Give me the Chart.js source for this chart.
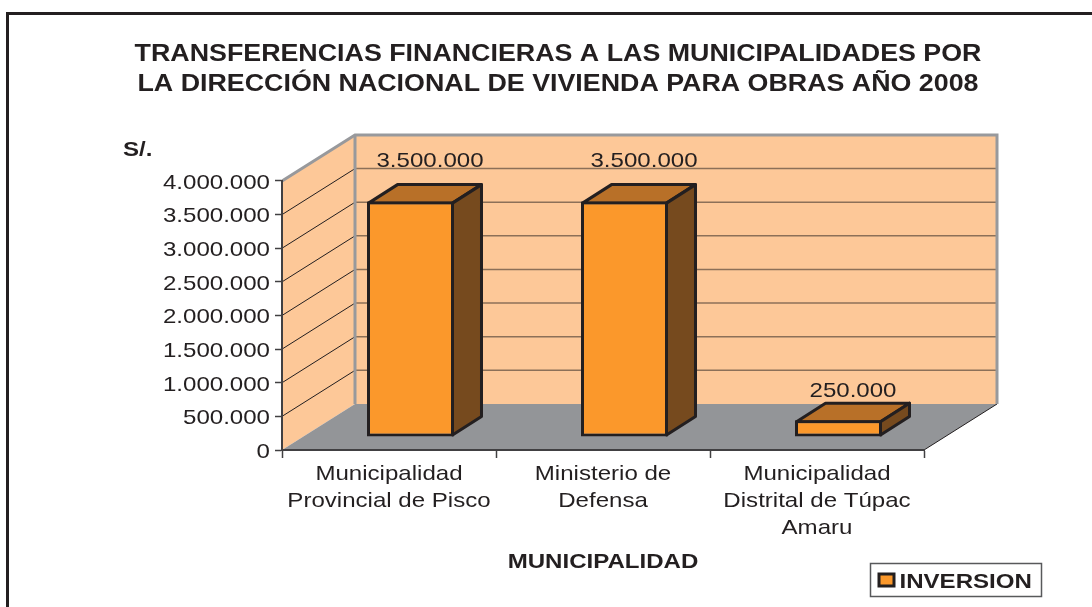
<!DOCTYPE html>
<html><head><meta charset="utf-8">
<script src="https://cdn.jsdelivr.net/npm/chart.js@4"></script>
<style>html,body{margin:0;padding:0;background:#fff}canvas{display:block}</style>
</head><body><canvas id="c" width="1092" height="607"></canvas>
<script>
const titleLines = ["TRANSFERENCIAS FINANCIERAS A LAS MUNICIPALIDADES POR","LA DIRECCIÓN NACIONAL DE VIVIENDA PARA OBRAS AÑO 2008"];
const categories = [["Municipalidad","Provincial de Pisco"],["Ministerio de","Defensa"],["Municipalidad","Distrital de Túpac","Amaru"]];
const inversion = [3500000,3500000,250000];
const seriesName = "INVERSION";
const xAxisTitle = "MUNICIPALIDAD";
const yAxisCaption = "S/.";
const yMax = 4000000, yStep = 500000;

const INK="#231F20", FS=21;
const WALL_DX=73, WALL_DY=-46;       // depth of the 3D box
const BAR_DX=21.5, BAR_DY=-13;       // bar's place inside the box
const TOP_DX=29, TOP_DY=-18.5;       // bar's own depth
const TEXT_SX=1.146, TEXT_DY=2;      // the reference's type is horizontally stretched
const fmt=v=>String(v).replace(/\B(?=(\d{3})+$)/g,".");
const FONT="'Liberation Sans',Arial,sans-serif";

const box3d={id:"box3d",
 beforeInit(ch){
  const c=ch.ctx,orig=c.fillText.bind(c);
  c.fillText=function(t,x,y){
   c.save();c.translate(x,y+TEXT_DY);c.scale(TEXT_SX,1);orig(t,0,0);c.restore();
  };
 },
 afterLayout(ch){
  const t=ch.titleBlock; t.left=0; t.right=1116;
  const l=ch.legend; l.left=868; l.right=1042; l.top=559.5; l.bottom=600;
 },
 beforeDraw(ch){
  const c=ch.ctx,{x,y}=ch.scales,a=ch.chartArea;
  c.save();
  // frame
  c.strokeStyle=INK;c.lineWidth=3;
  c.beginPath();c.moveTo(7.5,610);c.lineTo(7.5,13.5);c.lineTo(1095,13.5);c.stroke();
  const L=a.left,R=a.right,T=y.getPixelForValue(yMax),B=y.getPixelForValue(0);
  // back wall
  c.fillStyle="#FDC898";c.fillRect(L+WALL_DX,T+WALL_DY,R-L,B-T);
  // side wall
  c.beginPath();c.moveTo(L,T);c.lineTo(L+WALL_DX,T+WALL_DY);c.lineTo(L+WALL_DX,B+WALL_DY);c.lineTo(L,B);c.closePath();c.fill();
  // grid
  for(let v=yStep;v<yMax;v+=yStep){
   const p=y.getPixelForValue(v);
   c.strokeStyle="#8C7058";c.lineWidth=1.5;
   c.beginPath();c.moveTo(L+WALL_DX,p+WALL_DY);c.lineTo(R+WALL_DX,p+WALL_DY);c.stroke();
   c.strokeStyle=INK;c.lineWidth=1;
   c.beginPath();c.moveTo(L,p);c.lineTo(L+WALL_DX,p+WALL_DY);c.stroke();
  }
  // floor
  c.fillStyle="#939598";
  c.beginPath();c.moveTo(L,B);c.lineTo(R,B);c.lineTo(R+WALL_DX,B+WALL_DY);c.lineTo(L+WALL_DX,B+WALL_DY);c.closePath();c.fill();
  c.strokeStyle=INK;c.lineWidth=1;
  c.beginPath();c.moveTo(R,B);c.lineTo(R+WALL_DX,B+WALL_DY);c.stroke();
  // wall edges
  c.strokeStyle="#98999C";c.lineWidth=3;
  c.beginPath();c.moveTo(L,T);c.lineTo(L+WALL_DX,T+WALL_DY);c.lineTo(R+WALL_DX,T+WALL_DY);c.lineTo(R+WALL_DX,B+WALL_DY);c.stroke();
  c.beginPath();c.moveTo(L+WALL_DX,T+WALL_DY);c.lineTo(L+WALL_DX,B+WALL_DY);c.stroke();
  c.restore();
 },
 beforeDatasetDraw(ch,args){
  const c=ch.ctx;c.save();c.translate(BAR_DX,BAR_DY);
  const e=ch.getDatasetMeta(args.index).data;
  c.lineWidth=3;c.strokeStyle=INK;c.lineJoin="round";
  e.forEach(b=>{
   const l=b.x-b.width/2+1.5,r=b.x+b.width/2-1.5,t=b.y+1.5,bt=b.base-1.5;
   c.fillStyle="#B87028";
   c.beginPath();c.moveTo(l,t);c.lineTo(l+TOP_DX,t+TOP_DY);c.lineTo(r+TOP_DX,t+TOP_DY);c.lineTo(r,t);c.closePath();c.fill();c.stroke();
   c.fillStyle="#764A1E";
   c.beginPath();c.moveTo(r,t);c.lineTo(r+TOP_DX,t+TOP_DY);c.lineTo(r+TOP_DX,bt+TOP_DY);c.lineTo(r,bt);c.closePath();c.fill();c.stroke();
  });
 },
 afterDatasetDraw(ch){ch.ctx.restore();},
 afterDatasetsDraw(ch){
  const c=ch.ctx;c.save();
  c.fillStyle=INK;c.font=FS+"px "+FONT;c.textAlign="center";c.textBaseline="middle";
  ch.getDatasetMeta(0).data.forEach((b,i)=>{
   const tall=inversion[i]>yMax/2;
   c.fillText(fmt(inversion[i]),b.x+(tall?41:36),b.y+(tall?-55:-43.5));
  });
  c.font="bold "+FS+"px "+FONT;c.textAlign="left";
  c.fillText(yAxisCaption,123,148);
  c.restore();
 },
 afterDraw(ch){
  const c=ch.ctx,ds=ch.data.datasets[0];c.save();
  c.strokeStyle="#58595B";c.lineWidth=1.5;c.strokeRect(870.5,563.5,171,33);
  c.fillStyle=ds.backgroundColor;c.strokeStyle=ds.borderColor;c.lineWidth=3;
  c.fillRect(879,574,15,12);c.strokeRect(879,574,15,12);
  c.restore();
 }};

new Chart(document.getElementById("c"),{
 type:"bar",
 data:{labels:categories,datasets:[{label:seriesName,data:inversion,backgroundColor:"#FB982B",borderColor:INK,borderWidth:3,borderSkipped:false,barPercentage:0.4065,categoryPercentage:1,clip:false}]},
 plugins:[box3d],
 options:{responsive:false,animation:false,events:[],
  layout:{padding:{left:0,right:168,top:0,bottom:0}},
  font:{family:FONT},
  plugins:{
   tooltip:{enabled:false},
   title:{display:true,text:titleLines,color:INK,font:{family:FONT,size:23.4,weight:"bold",lineHeight:1.282},padding:{top:37.5,bottom:83.5}},
   legend:{display:true,position:"chartArea",align:"start",labels:{boxWidth:11,boxHeight:11,padding:10,color:INK,font:{family:FONT,size:FS,weight:"bold"},
    generateLabels:ch=>Chart.defaults.plugins.legend.labels.generateLabels(ch).map(o=>({...o,fillStyle:"rgba(0,0,0,0)",strokeStyle:"rgba(0,0,0,0)",lineWidth:0}))}}
  },
  scales:{
   x:{offset:true,
    border:{display:true,color:"#414042",width:2},
    grid:{display:true,drawOnChartArea:false,drawTicks:true,tickLength:8,tickColor:"#414042",tickWidth:1.5,offset:true},
    ticks:{color:INK,font:{family:FONT,size:FS,lineHeight:1.286},padding:1,maxRotation:0,minRotation:0,autoSkip:false},
    title:{display:true,text:xAxisTitle,color:INK,font:{family:FONT,size:FS,weight:"bold"},padding:{top:0,bottom:34.5}},
    afterFit(s){s.height=157;}
   },
   y:{min:0,max:yMax,
    border:{display:true,color:"#414042",width:2},
    grid:{display:true,drawOnChartArea:false,drawTicks:true,tickLength:7,tickColor:"#414042",tickWidth:1.5},
    ticks:{stepSize:yStep,color:INK,font:{family:FONT,size:FS},padding:5,callback:v=>fmt(v)},
    afterFit(s){s.width=282;}
   }
  }
 }
});
</script></body></html>
